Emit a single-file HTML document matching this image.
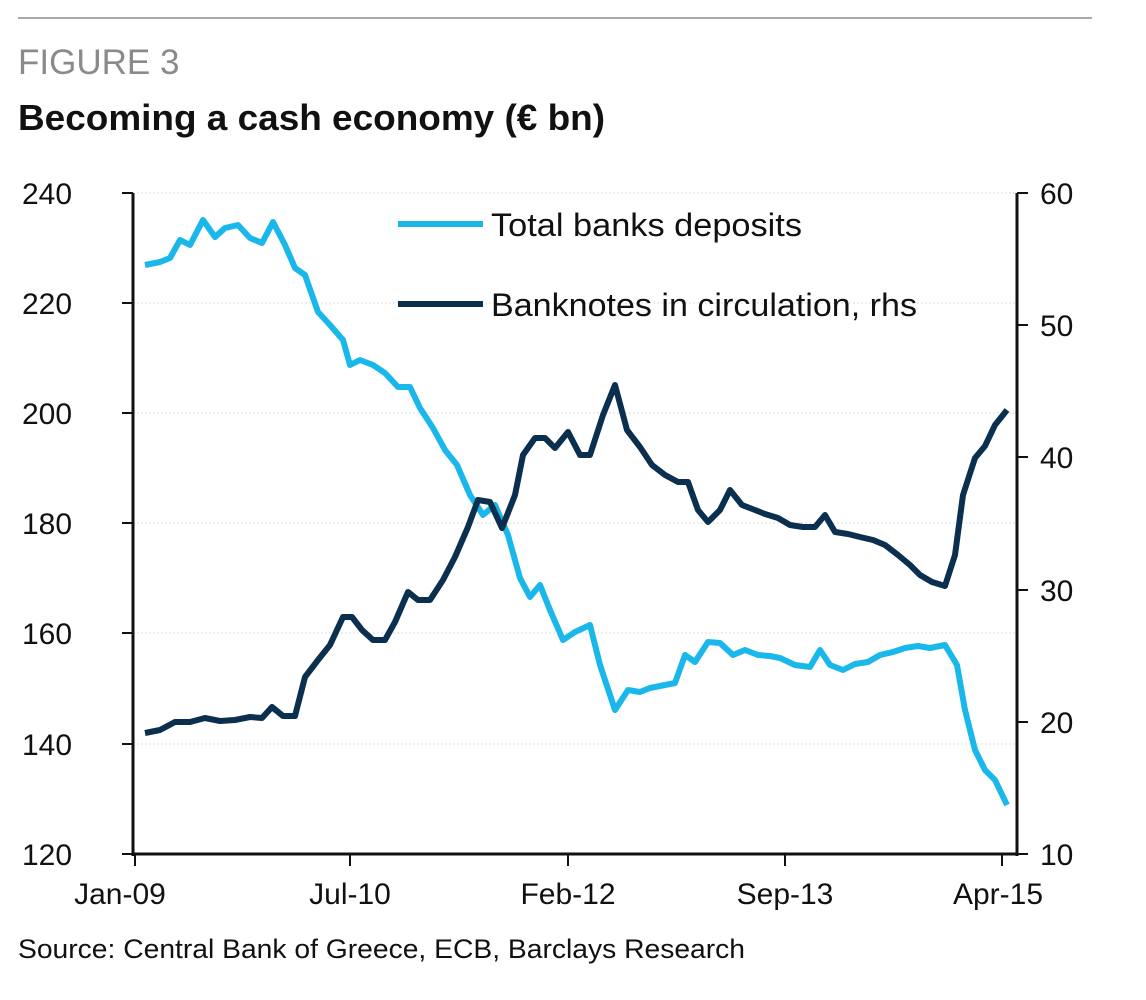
<!DOCTYPE html>
<html><head><meta charset="utf-8"><style>
body{margin:0;background:#fff;width:1146px;height:1000px;overflow:hidden}
svg{display:block}
text{font-family:"Liberation Sans","DejaVu Sans",sans-serif}
</style></head><body>
<svg width="1146" height="1000" viewBox="0 0 1146 1000">
<line x1="18" y1="18" x2="1092" y2="18" stroke="#aaa" stroke-width="2"/>
<text x="18" y="74" font-size="35" fill="#8a8a8a">FIGURE 3</text>
<text x="18" y="130" font-size="36" font-weight="bold" fill="#111" textLength="587" lengthAdjust="spacingAndGlyphs">Becoming a cash economy (€ bn)</text>
<g stroke="#ddd" stroke-width="1" stroke-dasharray="2,2">
<line x1="133" y1="193" x2="1017" y2="193"/>
<line x1="133" y1="303" x2="1017" y2="303"/>
<line x1="133" y1="413" x2="1017" y2="413"/>
<line x1="133" y1="523" x2="1017" y2="523"/>
<line x1="133" y1="633" x2="1017" y2="633"/>
<line x1="133" y1="744" x2="1017" y2="744"/>
</g>
<g stroke="#111" stroke-width="3">
<line x1="133" y1="193" x2="133" y2="856"/>
<line x1="1017" y1="193" x2="1017" y2="856"/>
<line x1="132" y1="854" x2="1018" y2="854"/>
</g>
<g stroke="#111" stroke-width="2">
<line x1="122" y1="193" x2="133" y2="193"/><line x1="122" y1="303" x2="133" y2="303"/><line x1="122" y1="413" x2="133" y2="413"/><line x1="122" y1="523" x2="133" y2="523"/><line x1="122" y1="633" x2="133" y2="633"/><line x1="122" y1="744" x2="133" y2="744"/><line x1="122" y1="854" x2="133" y2="854"/>
<line x1="1017" y1="193" x2="1028" y2="193"/><line x1="1017" y1="325" x2="1028" y2="325"/><line x1="1017" y1="457" x2="1028" y2="457"/><line x1="1017" y1="590" x2="1028" y2="590"/><line x1="1017" y1="722" x2="1028" y2="722"/><line x1="1017" y1="854" x2="1028" y2="854"/>
<line x1="135" y1="854" x2="135" y2="866"/><line x1="350" y1="854" x2="350" y2="866"/><line x1="568" y1="854" x2="568" y2="866"/><line x1="785" y1="854" x2="785" y2="866"/><line x1="1002" y1="854" x2="1002" y2="866"/>
</g>
<g font-size="30" fill="#111">
<text x="22" y="204">240</text><text x="22" y="314">220</text><text x="22" y="424">200</text><text x="22" y="534">180</text><text x="22" y="644">160</text><text x="22" y="755">140</text><text x="22" y="865">120</text>
</g>
<g font-size="30" fill="#111">
<text x="1040" y="204">60</text><text x="1040" y="336">50</text><text x="1040" y="468">40</text><text x="1040" y="601">30</text><text x="1040" y="733">20</text><text x="1040" y="865">10</text>
</g>
<g font-size="30" fill="#111" text-anchor="middle">
<text x="120" y="904">Jan-09</text><text x="350" y="904">Jul-10</text><text x="568" y="904">Feb-12</text><text x="785" y="904">Sep-13</text><text x="998" y="904">Apr-15</text>
</g>
<polyline fill="none" stroke="#1ab8ea" stroke-width="6" stroke-linejoin="round" points="145,265 160,262 170,258 180,240 190,245 203,220 215,237 225,228 238,225 250,238 262,243 273,222 285,245 295,268 305,275 318,312 330,325 343,340 350,365 360,360 373,365 385,373 398,387 410,387 420,408 433,428 445,450 457,465 470,495 483,515 495,505 508,535 520,578 530,597 540,585 550,610 563,640 575,632 590,625 600,665 615,710 628,690 640,692 650,688 665,685 675,683 685,655 695,662 708,642 720,643 733,655 745,650 758,655 770,656 780,658 795,665 810,667 820,650 830,665 843,670 855,664 868,662 880,655 893,652 905,648 918,646 930,648 945,645 957,665 965,710 975,750 985,770 995,780 1007,805"/>
<polyline fill="none" stroke="#0b2f4f" stroke-width="6" stroke-linejoin="round" points="145,733 160,730 175,722 190,722 205,718 220,721 235,720 250,717 262,718 272,707 283,716 295,716 305,677 318,660 330,645 343,617 352,617 362,630 373,640 385,640 395,622 408,592 418,600 430,600 443,580 455,557 468,527 478,500 490,502 502,528 515,495 523,455 535,438 545,438 555,448 568,432 580,455 590,455 603,415 615,385 627,430 640,447 652,465 665,475 678,482 688,482 698,510 708,522 720,510 730,490 742,505 755,510 765,514 778,518 790,525 803,527 815,527 825,515 835,532 848,534 860,537 873,540 885,545 898,555 910,565 920,575 932,582 945,586 955,555 963,495 975,458 985,446 995,425 1007,410"/>
<line x1="398" y1="224" x2="483" y2="224" stroke="#1ab8ea" stroke-width="6"/>
<text x="491" y="236" font-size="32" fill="#111" textLength="311" lengthAdjust="spacingAndGlyphs">Total banks deposits</text>
<line x1="398" y1="304" x2="483" y2="304" stroke="#0b2f4f" stroke-width="6"/>
<text x="491" y="316" font-size="32" fill="#111" textLength="426" lengthAdjust="spacingAndGlyphs">Banknotes in circulation, rhs</text>
<text x="18" y="958" font-size="27" fill="#111" textLength="727" lengthAdjust="spacingAndGlyphs">Source: Central Bank of Greece, ECB, Barclays Research</text>
</svg>
</body></html>
